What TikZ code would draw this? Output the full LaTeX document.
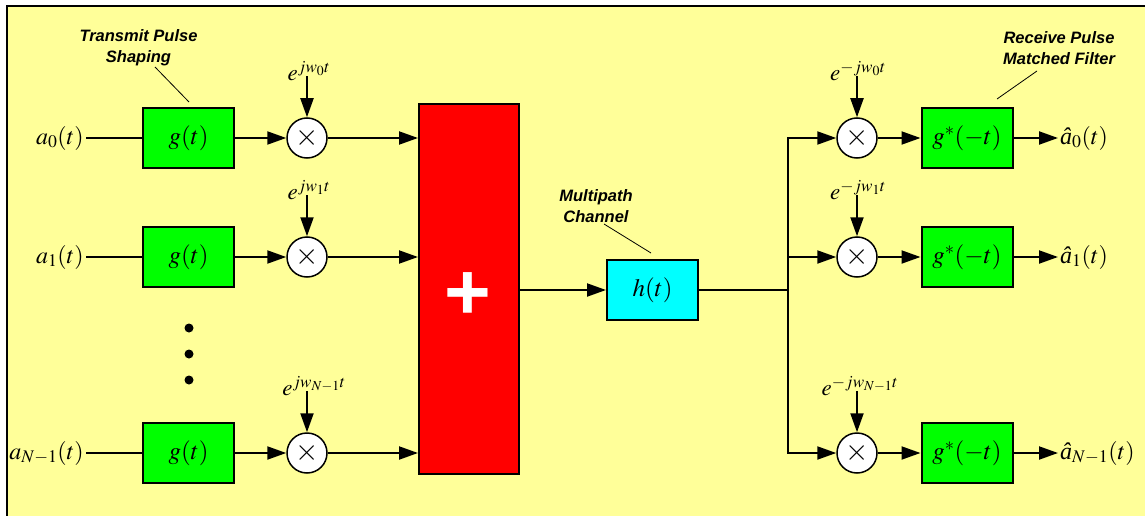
\documentclass[tikz,border=0pt]{standalone}
\usepackage{mathptmx}
\usepackage{fontspec}
\setmainfont{Liberation Serif}
\setsansfont{Liberation Sans}
\usetikzlibrary{arrows.meta}
\definecolor{bgyellow}{RGB}{255,255,153}
\definecolor{boxgreen}{RGB}{0,255,0}
\definecolor{boxred}{RGB}{255,0,0}
\definecolor{boxcyan}{RGB}{0,255,255}
\newcommand{\ahat}{\mbox{\itshape â}}
\begin{document}
\begin{tikzpicture}[x=1pt,y=-1pt,
  wire/.style={line width=2pt},
  arr/.style={wire,-{Triangle[length=19pt,width=13pt]}},
  blk/.style={draw,line width=2pt,minimum width=91pt,minimum height=60pt,inner sep=0pt,font=\fontsize{25}{25}\selectfont},
  gbox/.style={blk,fill=boxgreen},
  mult/.style={circle,draw,line width=1.5pt,fill=white,minimum size=40pt,inner sep=0pt,font=\fontsize{30}{30}\selectfont},
  mlabel/.style={font=\fontsize{24}{24}\selectfont,inner sep=2pt},
  elabel/.style={font=\fontsize{23}{23}\selectfont,inner sep=0pt},
  note/.style={font=\fontsize{16.5}{21}\selectfont\sffamily\bfseries\itshape,align=center,inner sep=0pt},
  leader/.style={line width=0.8pt}]
\useasboundingbox (0,0) rectangle (1145,516);
\fill[bgyellow] (7,6) rectangle (1145,516);
\draw[line width=1.6pt] (7,516) -- (7,6) -- (1145,6);

% notes
\node[note] (tnote) at (138.5,48) {Transmit Pulse\\Shaping};
\coordinate (tl1) at (155,67); \coordinate (tl2) at (189,102);
\draw[leader] (tl1) -- (tl2);
\node[note] (cnote) at (596,206) {Multipath\\Channel};
\coordinate (cl1) at (604,224); \coordinate (cl2) at (651,253);
\draw[leader] (cl1) -- (cl2);
\node[note] (rnote) at (1059,48) {Receive Pulse\\Matched Filter};
\coordinate (rl1) at (1037,71); \coordinate (rl2) at (997,99);
\draw[leader] (rl1) -- (rl2);

% summer
\node[draw,line width=2pt,fill=boxred,minimum width=100pt,minimum height=370pt] (sum) at (469,289) {};
\node[text=white,font=\fontsize{80}{80}\selectfont\sffamily\bfseries,inner sep=0pt] (plus) at (468,296) {+};

% transmit rows
\node[mlabel,anchor=east] (a0) at (86,138) {$a_0(t)$};
\node[mlabel,anchor=east] (a1) at (86,257) {$a_1(t)$};
\node[mlabel,anchor=east] (a2) at (86,453) {$a_{N-1}(t)$};
\node[gbox] (g0) at (188.5,138) {$g(t)$};
\node[gbox] (g1) at (188.5,257) {$g(t)$};
\node[gbox] (g2) at (188.5,453) {$g(t)$};
\node[mult] (m0) at (307,138) {$\times$};
\node[mult] (m1) at (307,257) {$\times$};
\node[mult] (m2) at (307,453) {$\times$};
\node[elabel] (e0) at (309,71) {$e^{jw_0t}$};
\node[elabel] (e1) at (309,190) {$e^{jw_1t}$};
\node[elabel] (e2) at (314,386) {$e^{jw_{N-1}t}$};
\foreach \i in {0,1,2} {
  \draw[wire] (a\i) -- (g\i);
  \draw[arr] (g\i) -- (m\i);
  \draw[arr] ([yshift=5pt]m\i |- e\i.south) -- (m\i);
  \draw[arr] (m\i) -- (m\i -| sum.west);
}
\foreach \y in {328,354,380} \fill (189,\y) circle (4.5pt);

% channel
\node[blk,fill=boxcyan] (h) at (652.5,290) {$h(t)$};
\draw[arr] (sum.east |- h.west) -- (h);
\coordinate (bus) at (788,290);
\draw[wire] (h) -- (bus);

% receive rows
\node[mult] (mr0) at (857,138) {$\times$};
\node[mult] (mr1) at (857,257) {$\times$};
\node[mult] (mr2) at (857,453) {$\times$};
\node[elabel] (er0) at (858,71) {$e^{-jw_0t}$};
\node[elabel] (er1) at (858,190) {$e^{-jw_1t}$};
\node[elabel] (er2) at (860,386) {$e^{-jw_{N-1}t}$};
\node[gbox] (gr0) at (967,138) {$g^*(-t)$};
\node[gbox] (gr1) at (967,257) {$g^*(-t)$};
\node[gbox] (gr2) at (967,453) {$g^*(-t)$};
\node[mlabel,anchor=west] (o0) at (1058,138) {$\ahat_0(t)$};
\node[mlabel,anchor=west] (o1) at (1058,257) {$\ahat_1(t)$};
\node[mlabel,anchor=west] (o2) at (1058,453) {$\ahat_{N-1}(t)$};
\draw[arr] (bus) -- (bus |- mr0) -- (mr0);
\draw[arr] (bus) -- (bus |- mr2) -- (mr2);
\draw[arr] (bus |- mr1) -- (mr1);
\foreach \i in {0,1,2} {
  \draw[arr] ([yshift=5pt]mr\i |- er\i.south) -- (mr\i);
  \draw[arr] (mr\i) -- (gr\i);
  \draw[arr] (gr\i) -- (o\i);
}
\end{tikzpicture}
\end{document}
